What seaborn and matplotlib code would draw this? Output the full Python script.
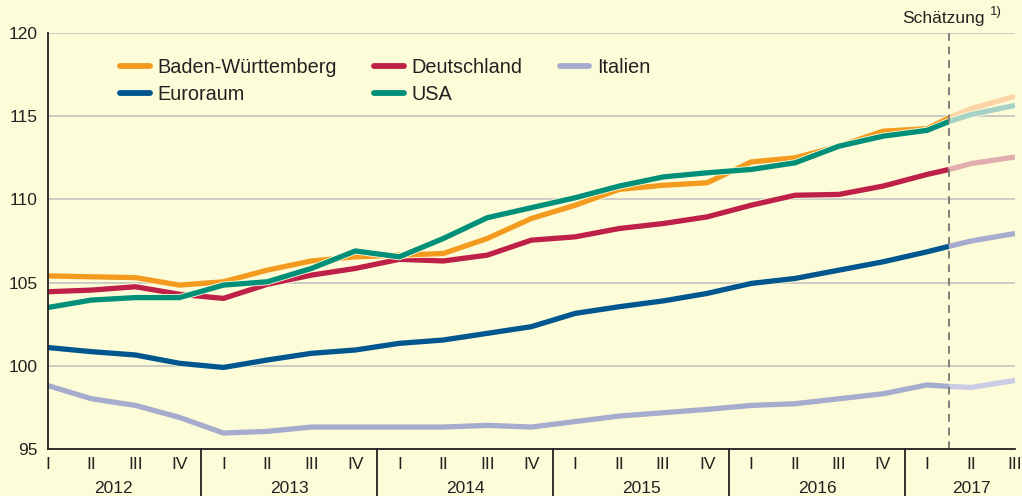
import matplotlib
matplotlib.use("Agg")
import matplotlib.pyplot as plt
import matplotlib.patheffects as pe
import seaborn as sns
import numpy as np
import pandas as pd

# ---------------- data ----------------
quarter_labels = ["I", "II", "III", "IV"] * 5 + ["I", "II", "III"]
years = ["2012", "2013", "2014", "2015", "2016", "2017"]

# quarterly values 2012 I ... 2017 III (last two quarters are estimates)
bw     = [105.4, 105.35, 105.3, 104.85, 105.05, 105.75, 106.3, 106.55, 106.65, 106.75, 107.65, 108.85,
          109.65, 110.6, 110.85, 111.0, 112.25, 112.5, 113.2, 114.1, 114.25, 115.45, 116.2]
de     = [104.45, 104.55, 104.75, 104.3, 104.05, 104.9, 105.45, 105.85, 106.4, 106.3, 106.65, 107.55,
          107.75, 108.25, 108.55, 108.95, 109.65, 110.25, 110.3, 110.8, 111.5, 112.15, 112.55]
euro   = [101.1, 100.85, 100.65, 100.15, 99.9, 100.35, 100.75, 100.95, 101.35, 101.55, 101.95, 102.35,
          103.15, 103.55, 103.9, 104.35, 104.95, 105.25, 105.75, 106.25, 106.85, 107.5, 107.95]
usa    = [103.5, 103.95, 104.1, 104.1, 104.85, 105.05, 105.85, 106.9, 106.55, 107.65, 108.9, 109.5,
          110.1, 110.8, 111.35, 111.6, 111.8, 112.2, 113.2, 113.8, 114.15, 115.1, 115.65]
italy  = [98.82, 98.02, 97.62, 96.9, 95.96, 96.06, 96.32, 96.32, 96.32, 96.32, 96.42, 96.32,
          96.65, 96.98, 97.18, 97.38, 97.62, 97.72, 98.02, 98.32, 98.85, 98.7, 99.12]
# value at the break between actual data and estimate (between 2017 I and II)
split = {"bw": 114.9, "de": 111.8, "euro": 107.18, "usa": 114.68, "italy": 98.76}

series_names = {"bw": "Baden-Württemberg", "de": "Deutschland", "euro": "Euroraum",
                "usa": "USA", "italy": "Italien"}
series_vals = {"bw": bw, "de": de, "euro": euro, "usa": usa, "italy": italy}

colors = {"bw": "#f39a1f", "de": "#be2047", "euro": "#00568f", "usa": "#008f78", "italy": "#a6acce"}
est_colors = {"bw": "#fcd3a6", "de": "#e2adae", "euro": "#a6acce", "usa": "#a6d2c6", "italy": "#c9cce4"}

bg = "#fdfcd8"
text_col = "#222222"
n_actual = 21
split_pos = 20.5

# ---------------- figure ----------------
sns.set_theme(style="white")
plt.rcParams["font.family"] = ["Liberation Sans", "DejaVu Sans"]

fig = plt.figure(figsize=(10.22, 4.96), dpi=100)
fig.patch.set_facecolor(bg)
ax = fig.add_axes([47.5 / 1022, 47 / 496, (1015 - 47.5) / 1022, 416 / 496])
ax.set_facecolor(bg)

lw = 3.8
order = ["italy", "euro", "de", "bw", "usa"]
handles = {}
for z, key in enumerate(order):
    vals = series_vals[key]
    x_act = list(range(n_actual)) + [split_pos]
    y_act = vals[:n_actual] + [split[key]]
    x_est = [split_pos] + list(range(n_actual, len(vals)))
    y_est = [split[key]] + vals[n_actual:]
    df_a = pd.DataFrame({"x": x_act, "y": y_act})
    df_e = pd.DataFrame({"x": x_est, "y": y_est})
    sns.lineplot(data=df_a, x="x", y="y", ax=ax, color=colors[key], lw=lw, zorder=3 + z,
                 sort=False, estimator=None, solid_joinstyle="miter", solid_capstyle="butt",
                 path_effects=[pe.Stroke(linewidth=lw + 1.2, foreground=bg), pe.Normal()])
    sns.lineplot(data=df_e, x="x", y="y", ax=ax, color=est_colors[key], lw=lw, zorder=3 + z,
                 sort=False, estimator=None, solid_joinstyle="miter", solid_capstyle="butt",
                 path_effects=[pe.Stroke(linewidth=lw + 1.2, foreground=bg), pe.Normal()])
    handles[key] = plt.Line2D([], [], color=colors[key], lw=4.2)

# dashed estimate separator
ax.axvline(split_pos, color="#7f7f7a", lw=1.4, ls=(0, (4, 3)), zorder=10)

# axes
ax.set_xlim(0, 22)
ax.set_ylim(95, 120)
ax.set_yticks([95, 100, 105, 110, 115, 120])
ax.set_yticklabels(["95", "100", "105", "110", "115", "120"])
ax.grid(axis="y", color="#c9c9c2", lw=1.3, zorder=0)
ax.set_axisbelow(True)
ax.set_xlabel("")
ax.set_ylabel("")
for s in ["top", "right"]:
    ax.spines[s].set_visible(False)
for s in ["left", "bottom"]:
    ax.spines[s].set_color("#222222")
    ax.spines[s].set_linewidth(1.3)
    ax.spines[s].set_zorder(12)

ax.set_xticks(range(len(quarter_labels)))
ax.set_xticklabels(quarter_labels)
ax.tick_params(axis="x", direction="in", length=8, width=1.3, color="#222222", pad=6,
               labelsize=12.5, labelcolor=text_col)
ax.tick_params(axis="y", length=0, pad=7, labelsize=12.5, labelcolor=text_col)

# year labels and separators
xtr = ax.get_xaxis_transform()
starts = [0, 4, 8, 12, 16, 20]
ends = [3, 7, 11, 15, 19, 22]
for yr, s0, e0 in zip(years, starts, ends):
    ax.text((s0 + e0) / 2, -0.106, yr, transform=xtr, ha="center", va="baseline",
            fontsize=12.5, color=text_col)
for b in [3.5, 7.5, 11.5, 15.5, 19.5]:
    ax.plot([b, b], [0, -0.115], transform=xtr, color="#222222", lw=1.3, clip_on=False)

# legend
leg_order = ["bw", "euro", "de", "usa", "italy"]
ax.legend([handles[k] for k in leg_order], [series_names[k] for k in leg_order],
          ncol=3, loc="upper left", bbox_to_anchor=(0.075, 0.94), frameon=False,
          fontsize=14.3, handlelength=1.5, handletextpad=0.4, columnspacing=1.85,
          labelspacing=0.4, borderpad=0, borderaxespad=0, labelcolor=text_col)

# estimate note
fig.text(985 / 1022, 1 - 18 / 496, "Schätzung", ha="right", va="center", fontsize=12.5, color=text_col)
fig.text(990 / 1022, 1 - 12 / 496, "1)", ha="left", va="center", fontsize=9.5, color=text_col)

fig.savefig("out.png", dpi=100, facecolor=bg)
